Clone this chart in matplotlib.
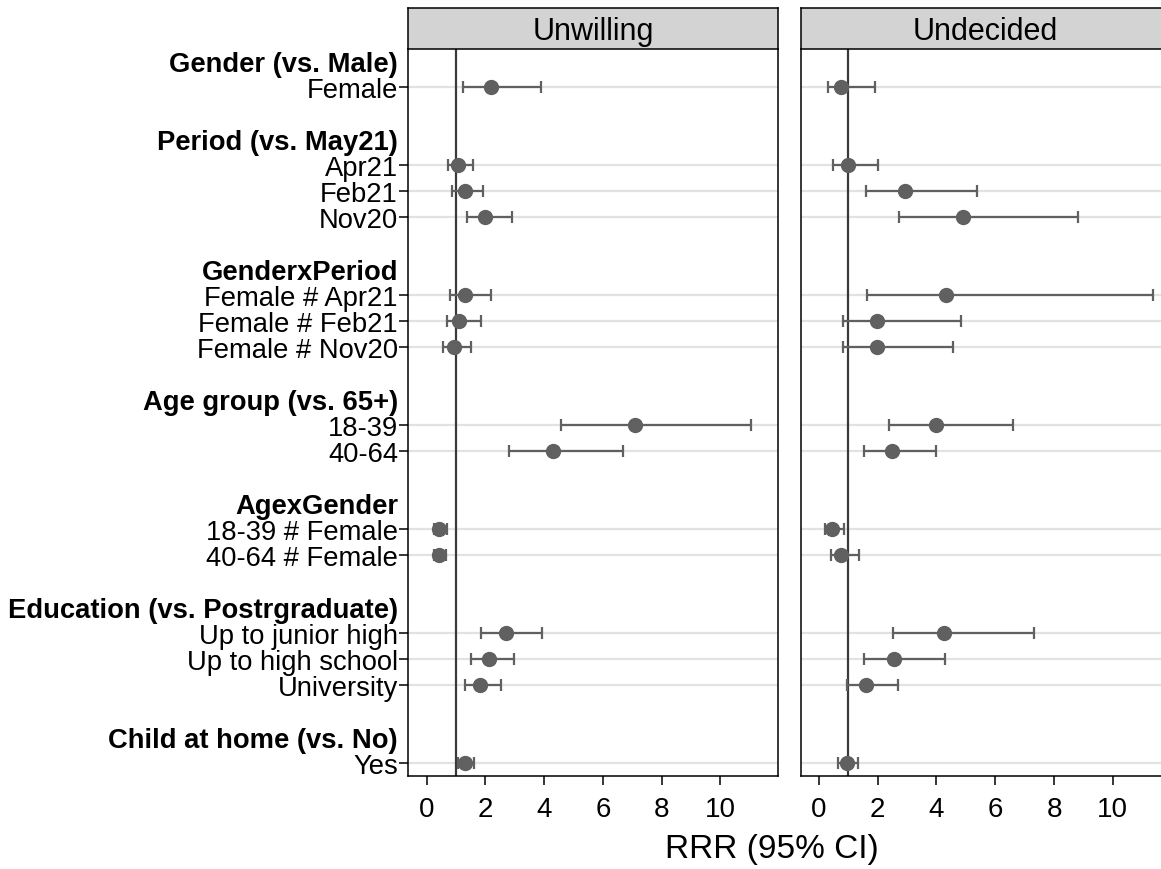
import matplotlib.pyplot as plt
import numpy as np

plt.rcParams['font.family'] = ['Liberation Sans', 'DejaVu Sans']

headers = ["Gender (vs. Male)", "Period (vs. May21)", "GenderxPeriod",
           "Age group (vs. 65+)", "AgexGender",
           "Education (vs. Postrgraduate)", "Child at home (vs. No)"]
groups = [["Female"],
          ["Apr21", "Feb21", "Nov20"],
          ["Female # Apr21", "Female # Feb21", "Female # Nov20"],
          ["18-39", "40-64"],
          ["18-39 # Female", "40-64 # Female"],
          ["Up to junior high", "Up to high school", "University"],
          ["Yes"]]

panels = ["Unwilling", "Undecided"]

# RRR with 95% CI, rows in the same order as the labels above
unw_rrr = [2.20, 1.08, 1.30, 1.98, 1.30, 1.11, 0.94, 7.10, 4.31, 0.43, 0.41, 2.72, 2.12, 1.81, 1.30]
unw_lo = [1.25, 0.74, 0.88, 1.38, 0.79, 0.70, 0.57, 4.56, 2.79, 0.26, 0.26, 1.87, 1.51, 1.30, 1.08]
unw_hi = [3.90, 1.59, 1.93, 2.92, 2.19, 1.85, 1.53, 11.05, 6.67, 0.71, 0.66, 3.93, 2.98, 2.52, 1.62]

und_rrr = [0.76, 0.99, 2.93, 4.91, 4.31, 1.99, 1.96, 3.98, 2.48, 0.43, 0.74, 4.27, 2.54, 1.59, 0.94]
und_lo = [0.31, 0.48, 1.59, 2.73, 1.63, 0.83, 0.83, 2.40, 1.54, 0.22, 0.40, 2.51, 1.52, 0.94, 0.66]
und_hi = [1.90, 2.01, 5.38, 8.83, 11.38, 4.83, 4.56, 6.60, 4.00, 0.85, 1.37, 7.32, 4.28, 2.68, 1.32]

xticks = [0, 2, 4, 6, 8, 10]

# build row layout: header, items, blank
tick_pos, tick_lab, is_head, data_pos = [], [], [], []
r = 0
for h, items in zip(headers, groups):
    tick_pos.append(r); tick_lab.append(h); is_head.append(True)
    r += 1
    for it in items:
        tick_pos.append(r); tick_lab.append(it); is_head.append(False)
        data_pos.append(r)
        r += 1
    r += 1
data_pos = np.array(data_pos)

pt_col = '#606060'
fig = plt.figure(figsize=(11.61, 8.70), dpi=100)

W = 1161.0
H = 870.0
ax_l = [408.3 / W, 800.7 / W]
ax_w = 370 / W
ax_b = (H - 776.7) / H
ax_h = 726.7 / H
strip_b = (H - 50) / H
strip_h = 40.7 / H

allvals = [(unw_rrr, unw_lo, unw_hi), (und_rrr, und_lo, und_hi)]

for k in range(2):
    ax = fig.add_axes([ax_l[k], ax_b, ax_w, ax_h])
    rrr, lo, hi = [np.array(v) for v in allvals[k]]
    for y in data_pos:
        ax.axhline(y, color='#e2e2e2', lw=1.6, zorder=0)
    ax.axvline(1, color='#3a3a3a', lw=1.6, zorder=1)
    ax.errorbar(rrr, data_pos, xerr=[rrr - lo, hi - rrr], fmt='o', color=pt_col,
                ecolor=pt_col, elinewidth=1.6, capsize=4.5, capthick=1.6,
                markersize=10, zorder=3)
    ax.set_xlim(-0.62, 11.97)
    ax.set_ylim(27.5, -0.46)
    ax.set_xticks(xticks)
    ax.set_xticklabels([str(t) for t in xticks], fontsize=20)
    ax.tick_params(axis='x', length=6.5, width=1.1, pad=8)
    ax.spines['top'].set_visible(False)
    for s in ['left', 'right', 'bottom']:
        ax.spines[s].set_linewidth(1.1)
    if k == 0:
        ax.set_yticks(tick_pos)
        ax.set_yticklabels(tick_lab, fontsize=19.7)
        ax.tick_params(axis='y', length=6.5, width=1.1, pad=1)
        for t, h in zip(ax.yaxis.get_major_ticks(), is_head):
            if h:
                t.tick1line.set_visible(False)
                t.label1.set_fontweight('bold')
    else:
        ax.set_yticks([])

    sx = fig.add_axes([ax_l[k], strip_b, ax_w, strip_h])
    sx.set_facecolor('#d3d3d3')
    sx.set_xticks([]); sx.set_yticks([])
    for s in sx.spines.values():
        s.set_linewidth(1.1)
    sx.text(0.5, 0.45, panels[k], ha='center', va='center', fontsize=22,
            transform=sx.transAxes)

fig.text(771.5 / W, (H - 850) / H, "RRR (95% CI)", ha='center', va='center', fontsize=24)

fig.savefig('out.png', dpi=100)
